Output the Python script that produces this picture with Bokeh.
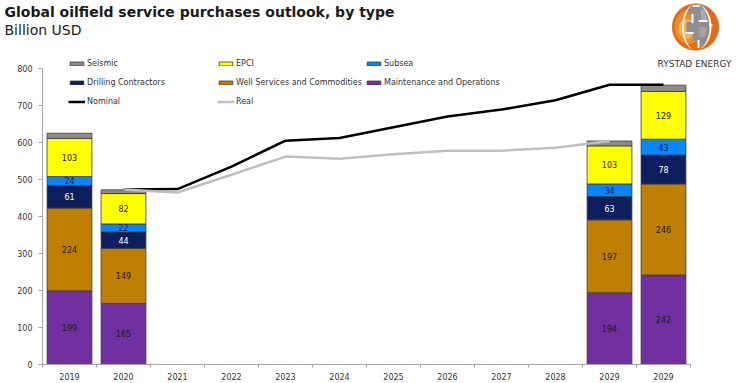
import numpy as np
from bokeh.plotting import figure
from bokeh.layouts import column
from bokeh.models import (ColumnDataSource, Range1d, FixedTicker, Legend, LegendItem,
                          Label, PolyAnnotation)
from bokeh.core.properties import value
from bokeh.embed import file_html
from bokeh.resources import INLINE

nan = float("nan")

# ---------------- data ----------------
categories = ["2019", "2020", "2021", "2022", "2023", "2024", "2025",
              "2026", "2027", "2028", "2029", "2029"]
maintenance = [199, 165, nan, nan, nan, nan, nan, nan, nan, nan, 194, 242]
well_services = [224, 149, nan, nan, nan, nan, nan, nan, nan, nan, 197, 246]
drilling = [61, 44, nan, nan, nan, nan, nan, nan, nan, nan, 63, 78]
subsea = [24, 22, nan, nan, nan, nan, nan, nan, nan, nan, 34, 43]
epci = [103, 82, nan, nan, nan, nan, nan, nan, nan, nan, 103, 129]
seismic = [14, 10, nan, nan, nan, nan, nan, nan, nan, nan, 13, 17]
nominal = [nan, 473, 474, 535, 605, 612, 641, 670, 689, 714, 756, 756]
real = [nan, 473, 465, 513, 562, 556, 568, 578, 578, 586, 604, nan]
y_ticks = [0, 100, 200, 300, 400, 500, 600, 700, 800]

series_names = ["Maintenance and Operations", "Well Services and Commodities",
                "Drilling Contractors", "Subsea", "EPCI", "Seismic"]
series_keys = ["maint", "well", "drill", "subsea", "epci", "seismic"]
series_vals = [maintenance, well_services, drilling, subsea, epci, seismic]
series_colors = ["#7030A0", "#BF7F00", "#0B1F5C", "#0A84FF", "#FFFF00", "#8C8C8C"]
label_colors = ["#1a1a1a", "#1a1a1a", "#ffffff", "#1a1a40", "#1a1a1a", None]

FONT = "DejaVu Sans"

# ---------------- geometry (page pixels) ----------------
W = 737
HEAD_H = 57
MAIN_H = 383 - HEAD_H
LEFT = 42
BOTTOM = 19
FRAME_BOTTOM_PAGE = 364
TOP_PAGE_800 = 68
px_per_unit_y = (FRAME_BOTTOM_PAGE - TOP_PAGE_800) / 800.0
px_per_cat = 54.0
frame_h = MAIN_H - BOTTOM
y_end = frame_h / px_per_unit_y
x_end = (W - LEFT) / px_per_cat


def mfx(px):
    return px - LEFT


def mfy(py):
    return FRAME_BOTTOM_PAGE - py


x = np.arange(len(categories)) + 0.5
data = {"x": x}
for k, v in zip(series_keys, series_vals):
    data[k] = np.array(v, dtype=float)
src = ColumnDataSource(data)

p = figure(width=W, height=MAIN_H, output_backend="svg", toolbar_location=None,
           x_range=Range1d(0, x_end), y_range=Range1d(0, y_end),
           min_border_left=LEFT, min_border_right=0,
           min_border_top=0, min_border_bottom=BOTTOM,
           outline_line_color=None, background_fill_color="white",
           border_fill_color="white")
p.frame_align = False
p.xgrid.visible = False
p.ygrid.visible = False

bars = p.vbar_stack(series_keys, x="x", width=0.83, color=series_colors,
                    line_color="#3a3a3a", line_width=0.8, source=src)

# data labels
lx, ly, lt, lc = [], [], [], []
cum = np.zeros(len(categories))
for v, col in zip(series_vals, label_colors):
    arr = np.array(v, dtype=float)
    mid = cum + arr / 2
    if col is not None:
        for i in range(len(categories)):
            if np.isfinite(arr[i]):
                lx.append(x[i]); ly.append(mid[i]); lt.append(str(int(arr[i]))); lc.append(col)
    cum = cum + np.nan_to_num(arr)
lsrc = ColumnDataSource(dict(x=lx, y=ly, t=lt, c=lc))
p.text(x="x", y="y", text="t", text_color="c", source=lsrc, text_align="center",
       text_baseline="middle", text_font=value(FONT), text_font_size="8px")

nom_r = p.line(x, np.array(nominal, dtype=float), line_color="black", line_width=2.5)
real_r = p.line(x, np.array(real, dtype=float), line_color="#BFBFBF", line_width=2.5)

# ---------------- axes ----------------
axis_gray = "#A6A6A6"
p.yaxis.ticker = FixedTicker(ticks=y_ticks)
p.yaxis.bounds = (y_ticks[0], y_ticks[-1])
p.yaxis.axis_line_color = axis_gray
p.yaxis.major_tick_line_color = axis_gray
p.yaxis.major_tick_out = 4
p.yaxis.major_tick_in = 0
p.yaxis.minor_tick_line_color = None
p.yaxis.major_label_text_font = FONT
p.yaxis.major_label_text_font_size = "8px"
p.yaxis.major_label_text_color = "#333333"
p.yaxis.major_label_standoff = 6

p.xaxis.ticker = FixedTicker(ticks=list(x), minor_ticks=list(range(len(categories) + 1)))
p.xaxis.bounds = (0, len(categories))
p.xaxis.major_label_overrides = {float(xx): c for xx, c in zip(x, categories)}
p.xaxis.axis_line_color = axis_gray
p.xaxis.major_tick_line_color = None
p.xaxis.major_tick_out = 0
p.xaxis.major_tick_in = 0
p.xaxis.minor_tick_line_color = axis_gray
p.xaxis.minor_tick_out = 3
p.xaxis.minor_tick_in = 0
p.xaxis.major_label_text_font = FONT
p.xaxis.major_label_text_font_size = "8px"
p.xaxis.major_label_text_color = "#333333"
p.xaxis.major_label_standoff = 5

# ---------------- legends ----------------
bar_by_name = dict(zip(series_names, bars))
legend_cols = [
    [("Seismic", bar_by_name["Seismic"]), ("Drilling Contractors", bar_by_name["Drilling Contractors"]),
     ("Nominal", nom_r)],
    [("EPCI", bar_by_name["EPCI"]), ("Well Services and Commodities", bar_by_name["Well Services and Commodities"]),
     ("Real", real_r)],
    [("Subsea", bar_by_name["Subsea"]), ("Maintenance and Operations", bar_by_name["Maintenance and Operations"])],
]
col_left = [68, 217, 365]  # page px
row_h, row_gap = 14, 5
first_row_center = 63
for cl, items in zip(col_left, legend_cols):
    n = len(items)
    top = first_row_center - row_h / 2
    height = n * row_h + (n - 1) * row_gap
    lg = Legend(items=[LegendItem(label=t, renderers=[r]) for t, r in items],
                location=(mfx(cl), mfy(top + height)), orientation="vertical",
                glyph_width=17, glyph_height=5, label_height=row_h, spacing=row_gap,
                label_standoff=2, padding=0, margin=0,
                label_text_font=FONT, label_text_font_size="8px",
                label_text_color="#333333", label_text_baseline="middle",
                border_line_alpha=0, background_fill_alpha=0)
    p.add_layout(lg, "center")

# logo caption (lies in the main frame area)
LOGO_CX = 695
p.add_layout(Label(x=mfx(LOGO_CX - 1), y=mfy(63), x_units="screen", y_units="screen",
                   text="RYSTAD ENERGY", text_font=FONT, text_font_size="9px",
                   text_align="center", text_baseline="middle", text_color="#333333"))

# ---------------- header (title, subtitle, logo) ----------------
h = figure(width=W, height=HEAD_H, output_backend="svg", toolbar_location=None,
           x_range=Range1d(0, W), y_range=Range1d(0, HEAD_H),
           min_border_left=0, min_border_right=0, min_border_top=0, min_border_bottom=0,
           outline_line_color=None, background_fill_color="white", border_fill_color="white",
           x_axis_location=None, y_axis_location=None)
h.frame_align = False
h.xgrid.visible = False
h.ygrid.visible = False


def hfy(py):
    return HEAD_H - py


h.add_layout(Label(x=4, y=hfy(3), x_units="screen", y_units="screen",
                   text="Global oilfield service purchases outlook, by type",
                   text_font=FONT, text_font_style="bold", text_font_size="14px",
                   text_baseline="top", text_color="#1a1a1a"))
h.add_layout(Label(x=4, y=hfy(21), x_units="screen", y_units="screen",
                   text="Billion USD", text_font=FONT, text_font_size="14px",
                   text_baseline="top", text_color="#1a1a1a"))

cy0, R = 26.5, 23.5


def poly(pts, color):
    xs = [LOGO_CX + a for a, b in pts]
    ys = [hfy(cy0 + b) for a, b in pts]
    h.add_layout(PolyAnnotation(xs=xs, ys=ys, xs_units="screen", ys_units="screen",
                                fill_color=color, fill_alpha=1, line_alpha=0))


ang = np.linspace(0, 2 * np.pi, 72)
poly(list(zip(R * np.cos(ang), R * np.sin(ang))), "#E56A12")
poly(list(zip(-7 + 14 * np.cos(ang), 0 + 17 * np.sin(ang))), "#F28A2A")
poly(list(zip(-9 + 8 * np.cos(ang), 2 + 10 * np.sin(ang))), "#FAAE4E")
# gray tiles
poly([(-3, -21), (5, -23), (11, -20), (13, -10), (13.5, 0), (12.5, 10), (9, 18), (3, 21),
      (3, 14), (-3, 14), (-3, 6), (-9, 6), (-9, -5), (-3, -5), (-3, -12), (-7, -12), (-7, -18)], "#8E8E8E")
poly([(5, -18), (10, -16), (11, -6), (6, -6)], "#ABABAB")
poly([(4, 0), (11, 0), (10, 10), (4, 10)], "#A3A3A3")
# white meridians
th = np.linspace(np.radians(-80), np.radians(80), 30)
for a_in, a_out, sgn in [(11.5, 13.5, -1), (14, 16, 1)]:
    outer = [(sgn * a_out * np.cos(t), R * 0.97 * np.sin(t)) for t in th]
    inner = [(sgn * a_in * np.cos(t), R * 0.97 * np.sin(t)) for t in th[::-1]]
    poly(outer + inner, "#ffffff")
# white gaps between tiles
for rx0, ry0, rx1, ry1 in [(-4, -13, -2, -4), (-10, 5, -2, 7), (2, 13, 4, 21), (-3, -22, 4, -20),
                           (3, -7, 12, -5), (13.5, -3, 17, -1)]:
    poly([(rx0, ry0), (rx1, ry0), (rx1, ry1), (rx0, ry1)], "#ffffff")

layout = column(h, p, spacing=0)
open("out.html", "w").write(file_html(layout, INLINE))
